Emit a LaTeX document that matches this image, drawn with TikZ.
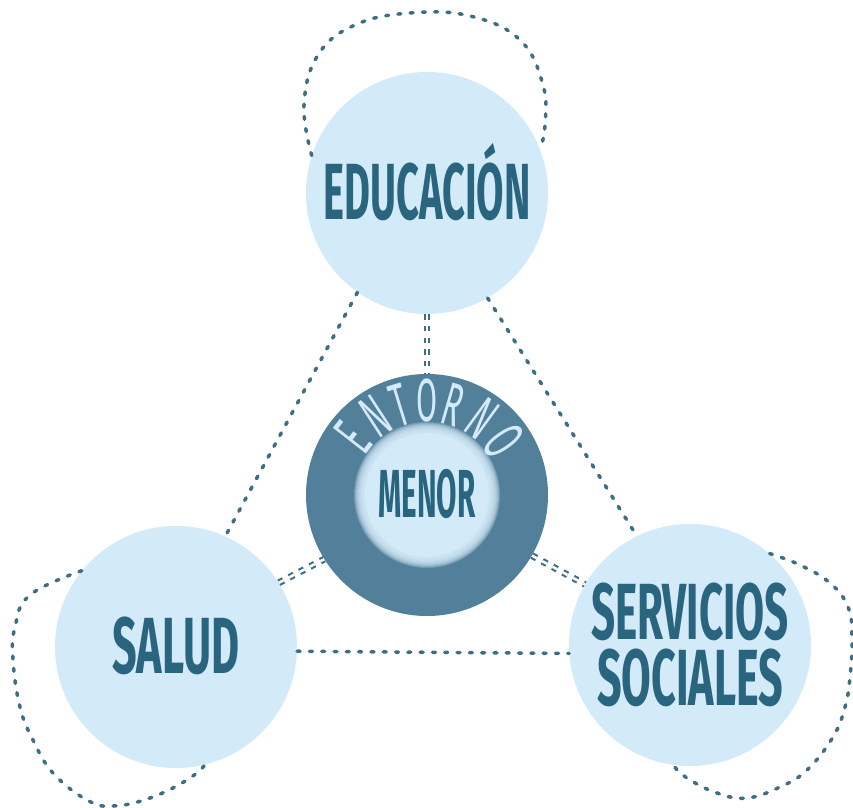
\documentclass[tikz,border=0pt]{standalone}
\usepackage{fontspec}
\usepackage{graphicx}
\setmainfont{Fira Sans}
\usetikzlibrary{calc}
\definecolor{cloud}{HTML}{D3EAF8}
\definecolor{sea}{HTML}{527F99}
\definecolor{ink}{HTML}{2A6580}
\definecolor{dots}{HTML}{3E6E84}
\newcommand{\squeeze}[2]{\resizebox{#1}{\height}{#2}}

\begin{document}
\begin{tikzpicture}
  [x=0.03cm,y=0.03cm,every node/.style={circle,inner sep=0pt}]
  \tikzstyle{area} = [fill=cloud,minimum size=7.26cm,text=ink,font=\bfseries\fontsize{68}{56}\selectfont]
  \tikzstyle{core} = [fill=sea,minimum size=7.26cm]
  \tikzstyle{link} = [draw=dots,line width=3pt,dash pattern=on 2.5pt off 8pt,line cap=round]
  \tikzstyle{twin} = [draw=dots,line width=1.8pt,double=white,double distance=2.2pt,dash pattern=on 4.5pt off 5.5pt]
  \useasboundingbox (0,0) rectangle (853,807);
  \node[area,text height=47pt] (edu) at (427,614) {\squeeze{6.21cm}{EDUCACIÓN}};
  \node[area,text height=47pt] (salud) at (176,160) {\squeeze{3.81cm}{SALUD}};
  \node[area,align=center] (serv) at (690,162) {\squeeze{5.94cm}{SERVICIOS}\\\squeeze{5.58cm}{SOCIALES}};
  \node[core] (entorno) at (427,312) {};
  \foreach \r in {73,72,...,63}
    \fill[cloud,opacity=0.25] (entorno) circle (\r);
  \fill[cloud] (entorno) circle (62);
  \node[text=ink,font=\bfseries\fontsize{58}{58}\selectfont,text height=40pt] (menor) at (entorno) {\squeeze{2.91cm}{MENOR}};
\foreach \ch/\a in {E/142,N/123,T/107,O/90,R/74,N/54,O/35}
  \node[text=cloud,font=\fontsize{52}{52}\selectfont,text height=36pt,rotate=\a-90] at ($(entorno)+(\a:94)$) {\scalebox{0.5}[1]{\ch}};

  \draw[link] (edu.235) -- (salud.66);
  \draw[link] (edu.300) -- (serv.116);
  \draw[link] (salud.-2) -- (serv.184);
  \draw[twin] (edu.south) -- (entorno.north);
  \draw[twin] (salud.32) -- (entorno.212);
  \draw[twin] (entorno.330) -- (serv.150);

  \draw[link] plot[smooth,tension=0.7] coordinates {(edu.162) (304,702) (318,752) (355,782) (410,794) (470,791) (520,767) (543,722) (545,682) (edu.21)};
  \draw[link] plot[smooth,tension=0.7] coordinates {(salud.141) (30,212) (15,180) (13,147) (20,100) (33,67) (53,34) (87,7) (113,1) (150,9) (187,27) (salud.284)};
  \draw[link] plot[smooth,tension=0.7] coordinates {(serv.49) (800,242) (830,224) (848,200) (852,170) (850,130) (845,100) (833,70) (807,37) (780,20) (747,9) (717,14) (687,29) (serv.262)};
\end{tikzpicture}
\end{document}
